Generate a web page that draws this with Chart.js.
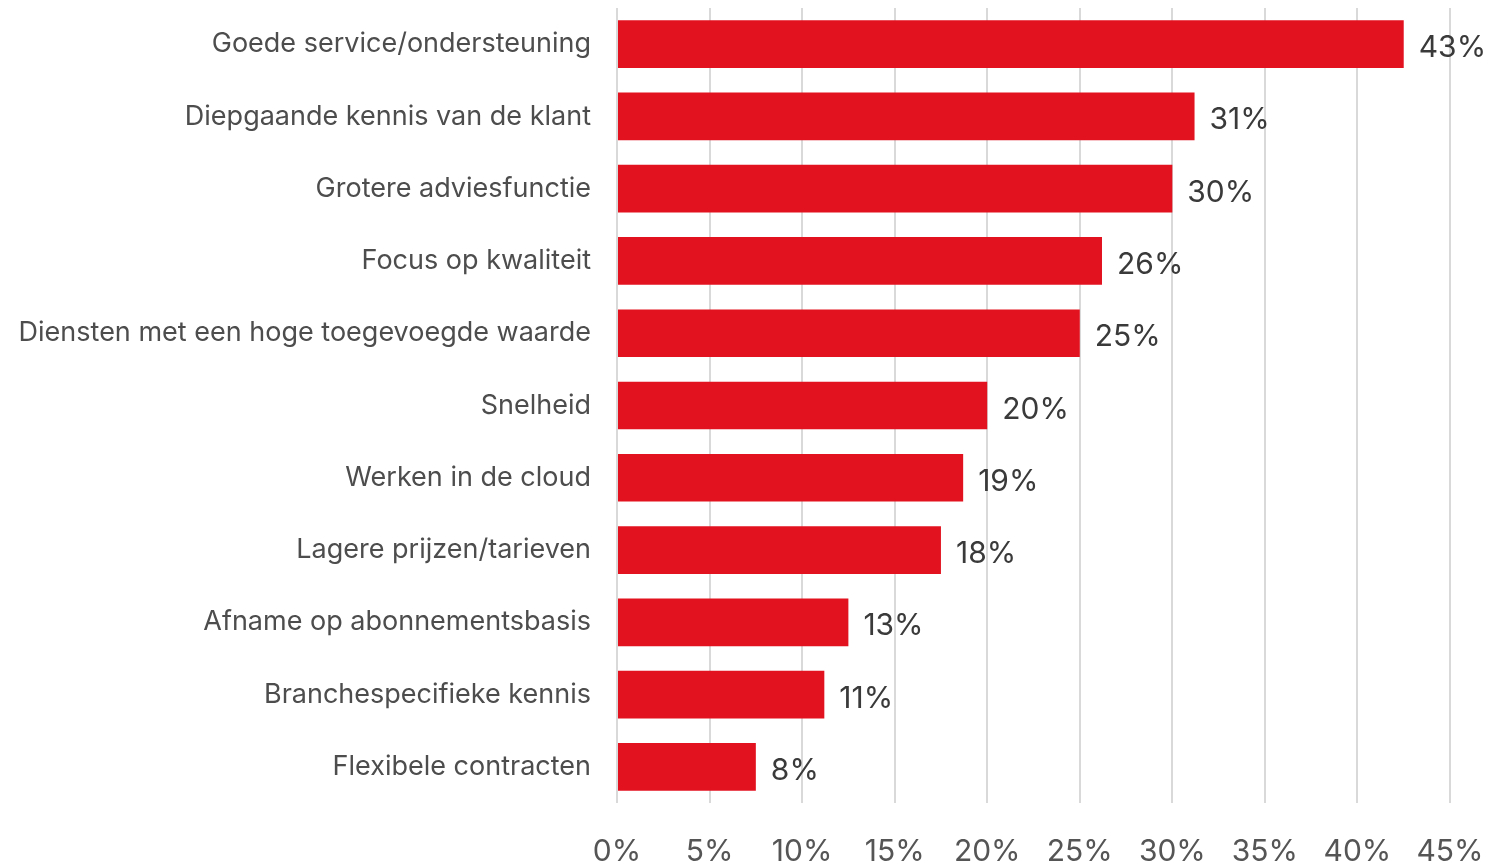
<!DOCTYPE html>
<html>
<head>
<meta charset="utf-8">
<script src="https://cdn.jsdelivr.net/npm/chart.js@4"></script>
<style>
  html, body { margin: 0; padding: 0; background: #fff; }
  #wrap { width: 1486px; height: 864px; }
</style>
</head>
<body>
<div id="wrap"><canvas id="chart" width="1486" height="864"></canvas></div>
<script>
// Survey answers, share of respondents (%)
const categories = [
    "Goede service/ondersteuning",
    "Diepgaande kennis van de klant",
    "Grotere adviesfunctie",
    "Focus op kwaliteit",
    "Diensten met een hoge toegevoegde waarde",
    "Snelheid",
    "Werken in de cloud",
    "Lagere prijzen/tarieven",
    "Afname op abonnementsbasis",
    "Branchespecifieke kennis",
    "Flexibele contracten"
]
const values = [42.5, 31.2, 30.0, 26.2, 25.0, 20.0, 18.7, 17.5, 12.5, 11.2, 7.5]
const xTicks = [0, 5, 10, 15, 20, 25, 30, 35, 40, 45]

const FONT = "Inter, 'Noto Sans', sans-serif"

// value labels at the end of each bar
const barLabels = {
    id: 'barLabels',
    afterDatasetsDraw(chart) {
        const ctx = chart.ctx
        const meta = chart.getDatasetMeta(0)
        ctx.save()
        ctx.font = "30px " + FONT
        ctx.fillStyle = "#3a3a3a"
        ctx.textAlign = "left"
        ctx.textBaseline = "middle"
        meta.data.forEach((bar, i) => {
            ctx.fillText(Math.round(values[i]) + "%", bar.x + 15, bar.y + 4)
        })
        ctx.restore()
    }
}

const ctx = document.getElementById('chart')
new Chart(ctx, {
    type: 'bar',
    data: {
        labels: categories,
        datasets: [{
            data: values,
            backgroundColor: '#e3121f',
            barPercentage: 0.66,
            categoryPercentage: 1
        }]
    },
    options: {
        indexAxis: 'y',
        responsive: false,
        animation: false,
        layout: { autoPadding: false, padding: { top: 8, right: 36, bottom: 0, left: 0 } },
        plugins: { legend: { display: false }, tooltip: { enabled: false } },
        scales: {
            x: {
                min: 0,
                max: 45,
                afterBuildTicks: s => { s.ticks = xTicks.map(v => ({ value: v })) },
                afterFit: s => {
                    s.height = 61
                    s.paddingLeft = 0
                    s.paddingRight = 0
                },
                border: { display: false },
                grid: { color: '#d9d9d9', lineWidth: 2, drawTicks: false },
                ticks: {
                    padding: 31,
                    color: '#555',
                    font: { family: FONT, size: 30 },
                    callback: v => v + '%'
                }
            },
            y: {
                afterFit: s => {
                    s.width = 617
                    s.paddingTop = 0
                    s.paddingBottom = 0
                },
                border: { display: false },
                grid: { display: false },
                ticks: {
                    padding: 18,
                    color: '#4d4d4d',
                    font: { family: FONT, size: 27 }
                }
            }
        }
    },
    plugins: [barLabels]
})
</script>
</body>
</html>
